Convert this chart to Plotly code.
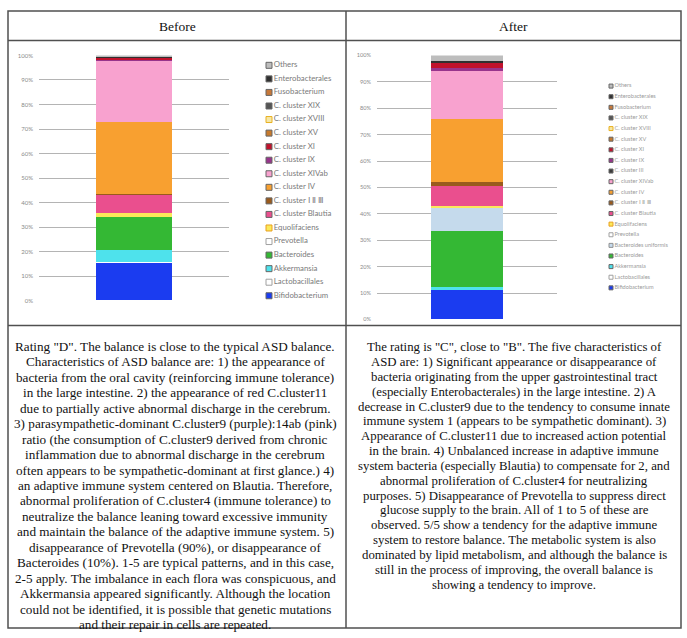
import plotly.graph_objects as go

W, H = 687, 638

# ---------------- data ----------------
before_categories = [
    "Bifidobacterium", "Lactobacillales", "Akkermansia", "Bacteroides", "Prevotella",
    "Equolifaciens", "C. cluster Blautia", "C. cluster Ⅰ Ⅱ Ⅲ", "C. cluster IV",
    "C. cluster XIVab", "C. cluster IX", "C. cluster XI", "C. cluster XV",
    "C. cluster XVIII", "C. cluster XIX", "Fusobacterium", "Enterobacterales", "Others",
]
before_values = [15.6, 0.2, 4.9, 13.1, 0.0, 1.9, 7.6, 0.2, 29.1, 25.3, 0.4, 0.8,
                 0.0, 0.0, 0.0, 0.0, 0.3, 0.6]

after_categories = [
    "Bifidobacterium", "Lactobacillales", "Akkermansia", "Bacteroides",
    "Bacteroides uniformis", "Prevotella", "Equolifaciens", "C. cluster Blautia",
    "C. cluster Ⅰ Ⅱ Ⅲ", "C. cluster IV", "C. cluster XIVab", "C. cluster III",
    "C. cluster IX", "C. cluster XI", "C. cluster XV", "C. cluster XVIII",
    "C. cluster XIX", "Fusobacterium", "Enterobacterales", "Others",
]
after_values = [10.9, 0.0, 1.2, 21.2, 9.0, 0.0, 0.6, 7.4, 1.7, 23.7, 18.4, 0.0,
                0.9, 2.1, 0.0, 0.0, 0.0, 0.0, 0.8, 2.1]

tick_values = [0, 10, 20, 30, 40, 50, 60, 70, 80, 90, 100]
tick_labels = ["0%", "10%", "20%", "30%", "40%", "50%", "60%", "70%", "80%", "90%", "100%"]

header_labels = ["Before", "After"]

before_text = [
    'Rating "D". The balance is close to the typical ASD balance.',
    "Characteristics of ASD balance are: 1) the appearance of",
    "bacteria from the oral cavity (reinforcing immune tolerance)",
    "in the large intestine. 2) the appearance of red C.cluster11",
    "due to partially active abnormal discharge in the cerebrum.",
    "3) parasympathetic-dominant C.cluster9 (purple):14ab (pink)",
    "ratio (the consumption of C.cluster9 derived from chronic",
    "inflammation due to abnormal discharge in the cerebrum",
    "often appears to be sympathetic-dominant at first glance.) 4)",
    "an adaptive immune system centered on Blautia. Therefore,",
    "abnormal proliferation of C.cluster4 (immune tolerance) to",
    "neutralize the balance leaning toward excessive immunity",
    "and maintain the balance of the adaptive immune system. 5)",
    "disappearance of Prevotella (90%), or disappearance of",
    "Bacteroides (10%). 1-5 are typical patterns, and in this case,",
    "2-5 apply. The imbalance in each flora was conspicuous, and",
    "Akkermansia appeared significantly. Although the location",
    "could not be identified, it is possible that genetic mutations",
    "and their repair in cells are repeated.",
]
after_text = [
    'The rating is "C", close to "B". The five characteristics of',
    "ASD are: 1) Significant appearance or disappearance of",
    "bacteria originating from the upper gastrointestinal tract",
    "(especially Enterobacterales) in the large intestine. 2) A",
    "decrease in C.cluster9 due to the tendency to consume innate",
    "immune system 1 (appears to be sympathetic dominant). 3)",
    "Appearance of C.cluster11 due to increased action potential",
    "in the brain. 4) Unbalanced increase in adaptive immune",
    "system bacteria (especially Blautia) to compensate for 2, and",
    "abnormal proliferation of C.cluster4 for neutralizing",
    "purposes. 5) Disappearance of Prevotella to suppress direct",
    "glucose supply to the brain. All of 1 to 5 of these are",
    "observed. 5/5 show a tendency for the adaptive immune",
    "system to restore balance. The metabolic system is also",
    "dominated by lipid metabolism, and although the balance is",
    "still in the process of improving, the overall balance is",
    "showing a tendency to improve.",
]

# ---------------- styles ----------------
colors = {
    "Bifidobacterium": "#1b3cf0",
    "Lactobacillales": "#ffffff",
    "Akkermansia": "#4ee2ec",
    "Bacteroides": "#34b834",
    "Bacteroides uniformis": "#c5daec",
    "Prevotella": "#ffffff",
    "Equolifaciens": "#fbe95a",
    "C. cluster Blautia": "#ea4f8e",
    "C. cluster Ⅰ Ⅱ Ⅲ": "#9a5a1c",
    "C. cluster IV": "#f8a030",
    "C. cluster XIVab": "#f8a2cf",
    "C. cluster III": "#3c3c3c",
    "C. cluster IX": "#98348c",
    "C. cluster XI": "#c0122c",
    "C. cluster XV": "#c77a2c",
    "C. cluster XVIII": "#f6e7a6",
    "C. cluster XIX": "#555555",
    "Fusobacterium": "#c6783a",
    "Enterobacterales": "#303030",
    "Others": "#bdbdbd",
}
edge = {
    "Lactobacillales": "#a0a0a0", "Prevotella": "#a0a0a0", "Equolifaciens": "#e8a020",
    "C. cluster XVIII": "#e8b020", "Bacteroides uniformis": "#909090",
}


def px_x(x):
    return x / W


def px_y(y):
    return 1 - y / H


fig = go.Figure()

# stacked bars
for cats, vals, xa, ya in [(before_categories, before_values, "x", "y"),
                           (after_categories, after_values, "x2", "y2")]:
    for c, v in zip(cats, vals):
        fig.add_trace(go.Bar(
            x=[0], y=[v], width=0.4, name=c, xaxis=xa, yaxis=ya,
            marker=dict(color=colors[c], line=dict(width=0)),
            showlegend=False, hoverinfo="name+y",
        ))

# custom legends (scatter markers + text)
for cats, xa, ya, x0, msize, fsize, fcol in [
    (before_categories, "x3", "y3", 269, 6, 7.8, "#7a7a7a"),
    (after_categories, "x4", "y4", 611, 4, 5.6, "#9a9a9a"),
]:
    fig.add_trace(go.Scatter(
        x=[x0] * len(cats), y=list(range(len(cats))), xaxis=xa, yaxis=ya,
        mode="markers+text", text=cats, textposition="middle right",
        textfont=dict(family="Lato, Open Sans, sans-serif", size=fsize, color=fcol),
        marker=dict(symbol="square", size=msize,
                    color=[colors[c] for c in cats],
                    line=dict(width=1, color=[edge.get(c, "#666666") for c in cats])),
        cliponaxis=False, showlegend=False, hoverinfo="skip",
    ))

axis_common = dict(showline=False, zeroline=False, fixedrange=True)
fig.update_layout(
    width=W, height=H, margin=dict(l=0, r=0, t=0, b=0),
    paper_bgcolor="white", plot_bgcolor="rgba(0,0,0,0)",
    barmode="stack", bargap=0, showlegend=False,
    xaxis=dict(domain=[px_x(39), px_x(229)], range=[-0.5, 0.5], showgrid=False,
               showticklabels=False, **axis_common),
    yaxis=dict(domain=[px_y(300), px_y(52)], range=[0, 100], tickvals=tick_values,
               ticktext=tick_labels, showgrid=True, gridcolor="#b4b4b4", gridwidth=1,
               tickfont=dict(family="Lato, sans-serif", size=6, color="#8a8a8a"),
               ticklabelstandoff=5, anchor="x", **axis_common),
    xaxis2=dict(domain=[px_x(377), px_x(557)], range=[-0.5, 0.5], showgrid=False,
                showticklabels=False, anchor="y2", **axis_common),
    yaxis2=dict(domain=[px_y(319), px_y(52)], range=[0, 100], tickvals=tick_values,
                ticktext=tick_labels, showgrid=True, gridcolor="#b4b4b4", gridwidth=1,
                tickfont=dict(family="Lato, sans-serif", size=5.6, color="#8a8a8a"),
                ticklabelstandoff=5, anchor="x2", **axis_common),
    xaxis3=dict(domain=[px_x(262), px_x(344)], range=[262, 344], visible=False,
                anchor="y3", **axis_common),
    yaxis3=dict(domain=[px_y(295), px_y(62)], range=[0, len(before_categories) - 1],
                visible=False, anchor="x3", **axis_common),
    xaxis4=dict(domain=[px_x(605), px_x(680)], range=[605, 680], visible=False,
                anchor="y4", **axis_common),
    yaxis4=dict(domain=[px_y(287), px_y(83)], range=[0, len(after_categories) - 1],
                visible=False, anchor="x4", **axis_common),
)

# table borders
border = dict(color="#505050", width=1.5)
L, R, T, B, MID = 8, 681, 7, 631, 346
fig.add_shape(type="rect", xref="paper", yref="paper", x0=px_x(L), x1=px_x(R),
              y0=px_y(B), y1=px_y(T), line=border)
for y in (37, 325):
    fig.add_shape(type="line", xref="paper", yref="paper", x0=px_x(L), x1=px_x(R),
                  y0=px_y(y), y1=px_y(y), line=border)
fig.add_shape(type="line", xref="paper", yref="paper", x0=px_x(MID), x1=px_x(MID),
              y0=px_y(B), y1=px_y(T), line=border)

serif = "Liberation Serif, Times New Roman, serif"
# headers
for lab, cx in zip(header_labels, [(L + MID) / 2, (MID + R) / 2]):
    fig.add_annotation(text=lab, x=px_x(cx), y=px_y(23), xref="paper", yref="paper",
                       showarrow=False, xanchor="center", yanchor="middle",
                       font=dict(family=serif, size=13.5, color="#111111"))

# body text, one annotation per line
for lines, cx, y0, dy, fs in [(before_text, 175, 346, 15.65, 13.2),
                              (after_text, 514, 347, 15.0, 12.8)]:
    for i, ln in enumerate(lines):
        fig.add_annotation(text=ln, x=px_x(cx), y=px_y(y0 + i * dy), xref="paper",
                           yref="paper", showarrow=False, xanchor="center",
                           yanchor="middle",
                           font=dict(family=serif, size=fs, color="#111111"))

fig.write_html(
    "out.html",
    config={"displayModeBar": False},
    post_script="document.body.style.margin='0';document.body.style.overflow='hidden';",
)
